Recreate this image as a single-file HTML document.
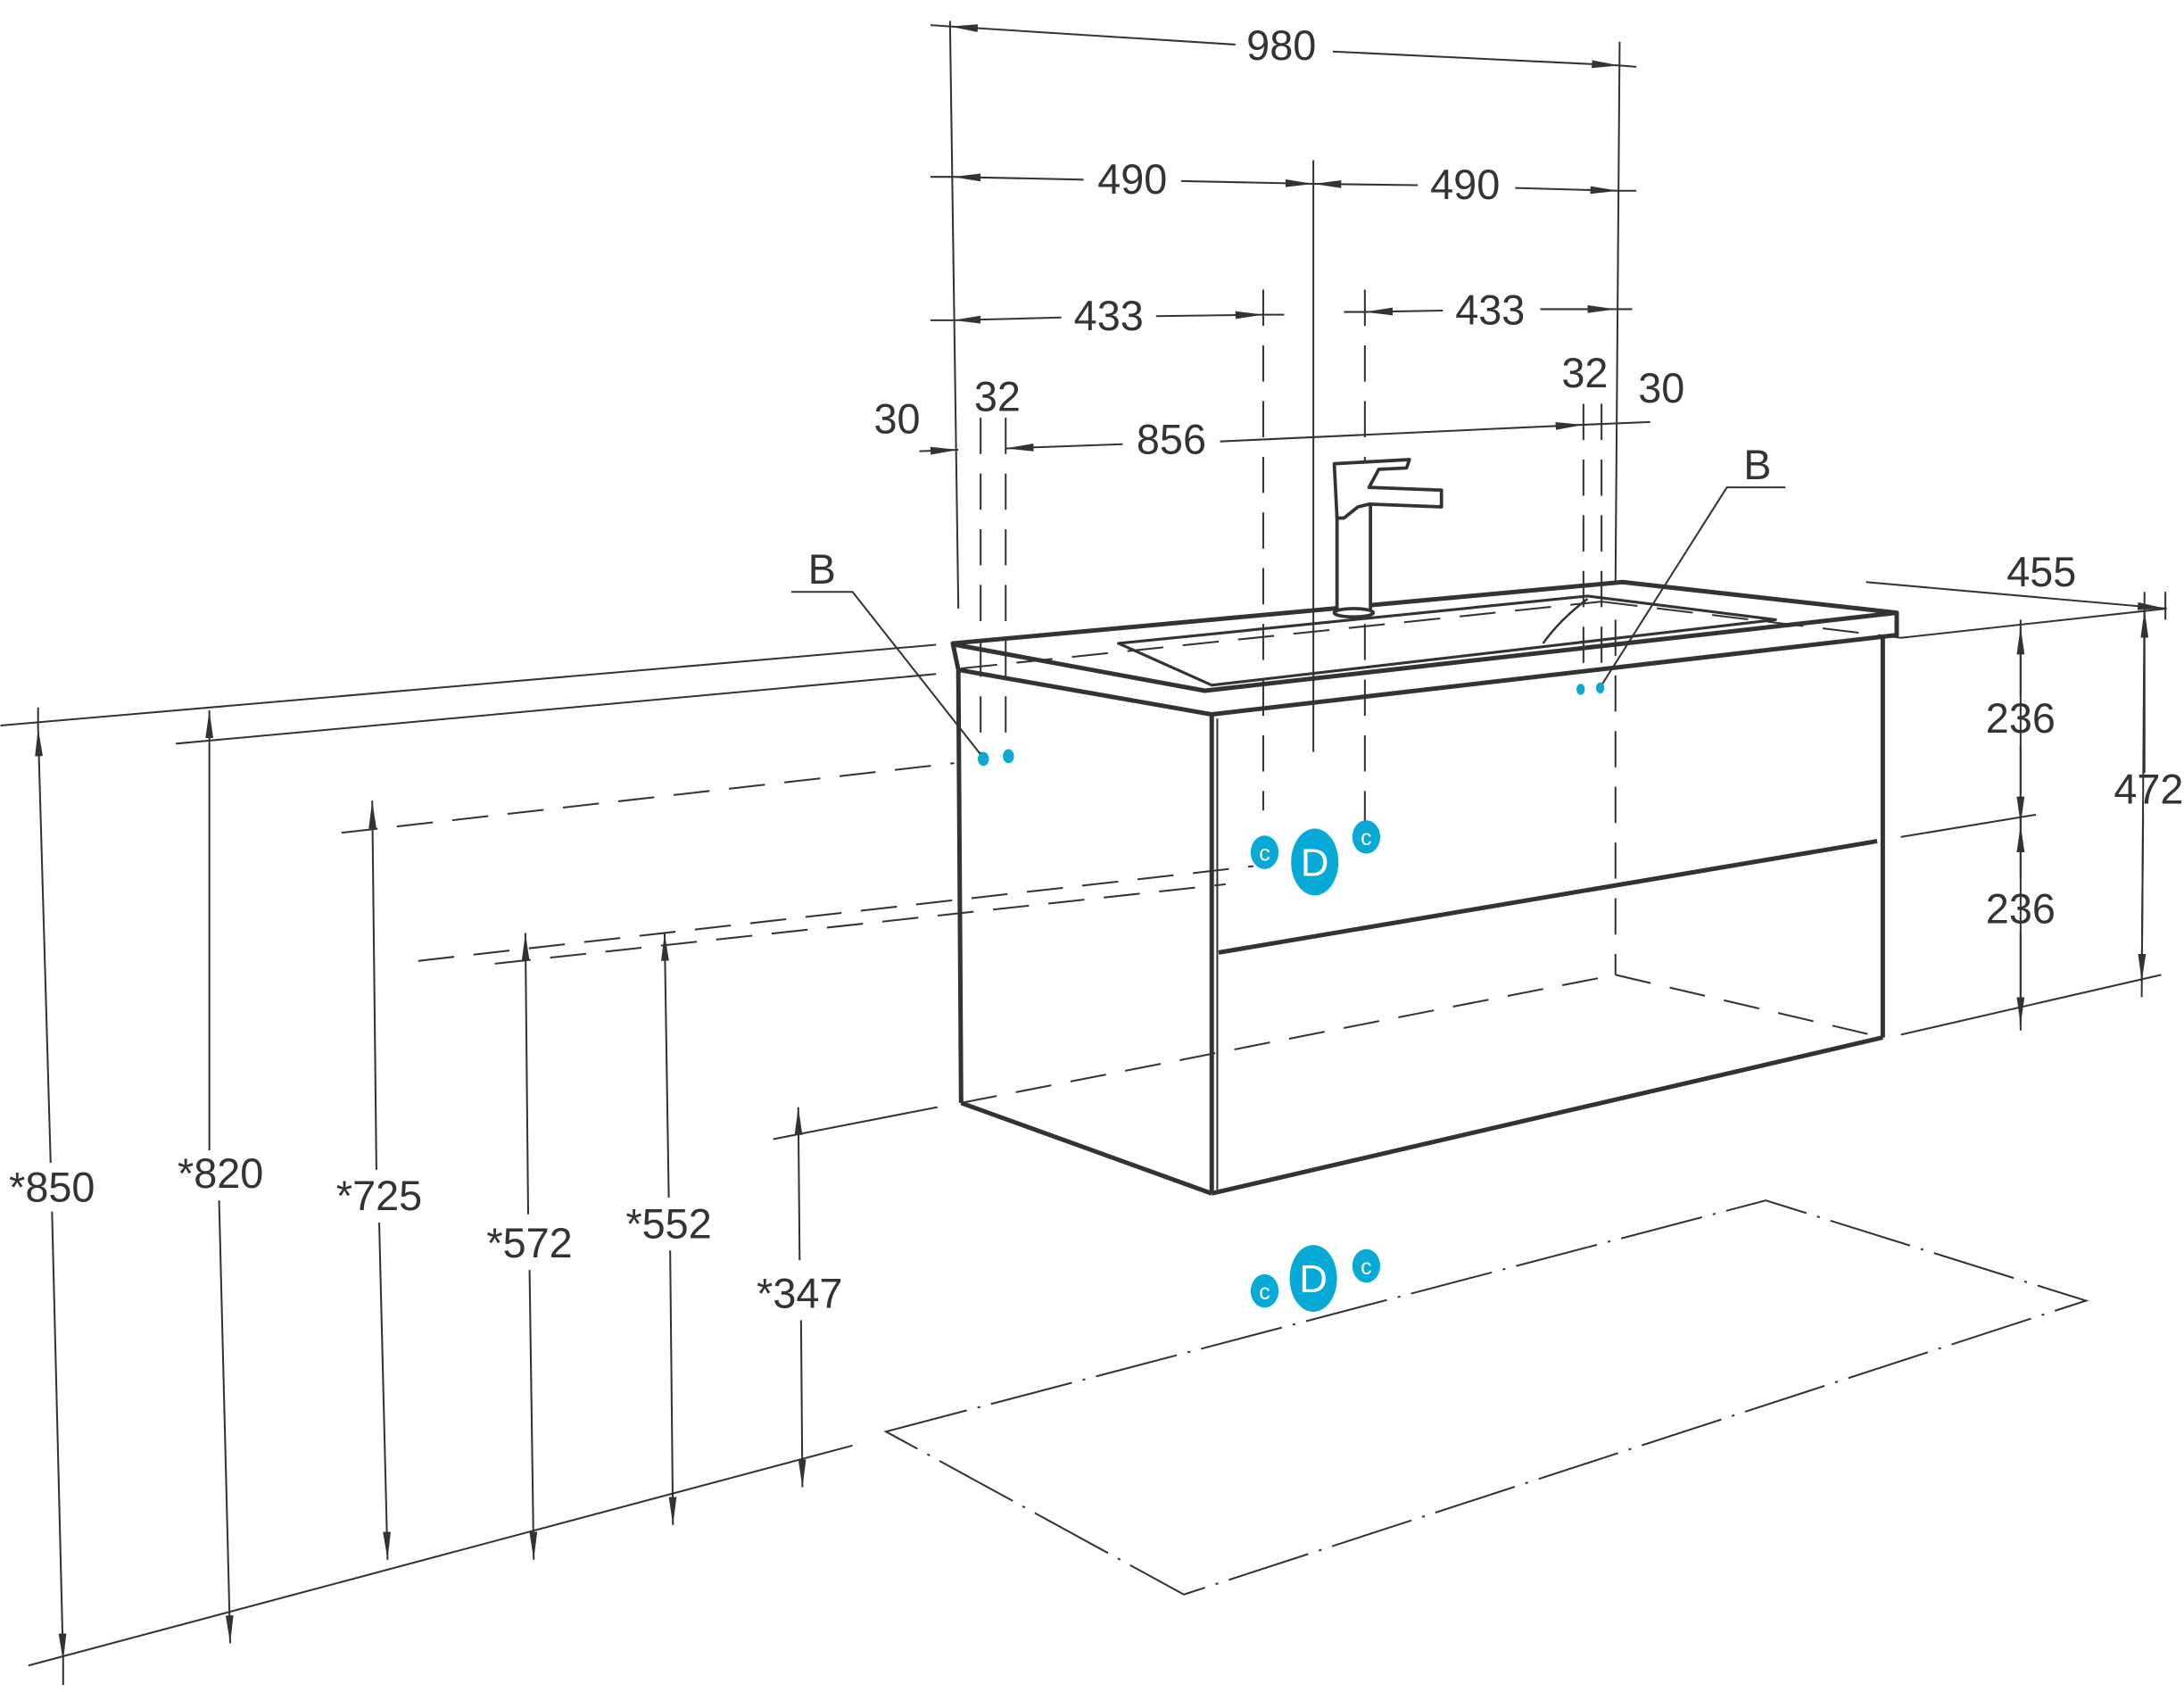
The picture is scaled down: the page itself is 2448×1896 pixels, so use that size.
<!DOCTYPE html>
<html><head><meta charset="utf-8"><style>html,body{margin:0;padding:0;background:#fff}svg{display:block}</style></head>
<body>
<svg width="2448" height="1896" viewBox="0 0 1568 1215" xmlns="http://www.w3.org/2000/svg" font-family="Liberation Sans, sans-serif">
<defs>
<marker id="a" viewBox="0 0 10 10" refX="10" refY="5" markerWidth="20" markerHeight="7" orient="auto-start-reverse" markerUnits="userSpaceOnUse" preserveAspectRatio="none"><path d="M0,1 L10,5 L0,9 Z" fill="#333"/></marker>
</defs>
<g stroke="#333" stroke-width="1.3" fill="none">
<line x1="0" y1="521" x2="672" y2="463"/>
<line x1="126" y1="534" x2="672" y2="484"/>
<line x1="20" y1="1196" x2="612" y2="1038"/>
<line x1="1365" y1="458" x2="1556" y2="437"/>
<line x1="1365" y1="601" x2="1462" y2="585"/>
<line x1="1365" y1="743" x2="1552" y2="700"/>
<line x1="555" y1="818" x2="673" y2="795"/>
<g stroke-dasharray="26,14">
<line x1="245" y1="598" x2="685" y2="548"/>
<line x1="300" y1="690" x2="900" y2="622"/>
<line x1="355" y1="692" x2="880" y2="635"/>
<line x1="690" y1="792" x2="1160" y2="700"/>
<line x1="1160" y1="700" x2="1352" y2="745"/>
<line x1="1160" y1="445" x2="1160" y2="700"/>
<line x1="690" y1="480" x2="1150" y2="432"/>
<line x1="1150" y1="432" x2="1365" y2="458"/>
<line x1="907" y1="208" x2="907" y2="582"/>
<line x1="980" y1="208" x2="980" y2="600"/>
<line x1="704" y1="300" x2="704" y2="545"/>
<line x1="722" y1="300" x2="722" y2="545"/>
<line x1="1137" y1="290" x2="1137" y2="490"/>
<line x1="1150" y1="290" x2="1150" y2="490"/>
</g>
<path d="M636,1028 L1268,862 L1498,934 L850,1145 Z" stroke-dasharray="60,8,2,8"/>
<line x1="682" y1="15" x2="688" y2="437"/>
<line x1="1163" y1="30" x2="1160" y2="420"/>
<line x1="943" y1="115" x2="943" y2="540"/>
<line x1="1451" y1="445" x2="1451" y2="740"/>
<line x1="1540" y1="425" x2="1538" y2="716"/>
<line x1="1555" y1="425" x2="1555" y2="445"/>
<line x1="668" y1="18" x2="682" y2="19"/><line x1="1163" y1="47" x2="1175" y2="48"/>
<line x1="682" y1="19" x2="887" y2="32" marker-start="url(#a)"/><line x1="957" y1="37" x2="1163" y2="47" marker-end="url(#a)"/>
<line x1="668" y1="127" x2="684" y2="127"/>
<line x1="848" y1="130" x2="943" y2="132" marker-end="url(#a)"/>
<line x1="684" y1="127" x2="778" y2="129" marker-start="url(#a)"/>
<line x1="943" y1="132" x2="1018" y2="133" marker-start="url(#a)"/><line x1="1162" y1="137" x2="1175" y2="137"/><line x1="1088" y1="135" x2="1162" y2="137" marker-end="url(#a)"/>
<line x1="668" y1="230" x2="684" y2="230"/><line x1="684" y1="230" x2="762" y2="228" marker-start="url(#a)"/><line x1="830" y1="227" x2="907" y2="226" marker-end="url(#a)"/><line x1="907" y1="226" x2="922" y2="226"/>
<line x1="965" y1="224" x2="980" y2="224"/><line x1="980" y1="224" x2="1036" y2="223" marker-start="url(#a)"/><line x1="1160" y1="222" x2="1172" y2="222"/><line x1="1106" y1="222" x2="1160" y2="222" marker-end="url(#a)"/>
<line x1="660" y1="324" x2="688" y2="323" marker-end="url(#a)"/>
<line x1="722" y1="322" x2="806" y2="319" marker-start="url(#a)"/><line x1="876" y1="317" x2="1137" y2="305" marker-end="url(#a)"/><line x1="1137" y1="305" x2="1185" y2="303"/>
<line x1="1340" y1="418" x2="1555" y2="437" marker-end="url(#a)"/>
<line x1="1451" y1="500" x2="1451" y2="450" marker-end="url(#a)"/>
<line x1="1451" y1="535" x2="1451" y2="592" marker-end="url(#a)"/>
<line x1="1451" y1="630" x2="1451" y2="592" marker-end="url(#a)"/>
<line x1="1451" y1="670" x2="1451" y2="736" marker-end="url(#a)"/>
<line x1="1540" y1="555" x2="1540" y2="438" marker-end="url(#a)"/>
<line x1="1539" y1="585" x2="1538" y2="705" marker-end="url(#a)"/>
<line x1="27" y1="508" x2="27" y2="523"/>
<line x1="36" y1="835" x2="27" y2="523" marker-end="url(#a)"/><line x1="37" y1="870" x2="45" y2="1193" marker-end="url(#a)"/><line x1="45" y1="1193" x2="45" y2="1210"/>
<line x1="150" y1="826" x2="150" y2="510" marker-end="url(#a)"/><line x1="157" y1="862" x2="165" y2="1180" marker-end="url(#a)"/>
<line x1="270" y1="840" x2="267" y2="575" marker-end="url(#a)"/><line x1="272" y1="878" x2="278" y2="1120" marker-end="url(#a)"/>
<line x1="379" y1="872" x2="377" y2="670" marker-end="url(#a)"/><line x1="380" y1="912" x2="383" y2="1120" marker-end="url(#a)"/>
<line x1="480" y1="860" x2="477" y2="670" marker-end="url(#a)"/><line x1="481" y1="898" x2="483" y2="1095" marker-end="url(#a)"/>
<line x1="574" y1="905" x2="573" y2="795" marker-end="url(#a)"/><line x1="575" y1="948" x2="576" y2="1068" marker-end="url(#a)"/>
<polyline points="568,425 612,425 705,543"/>
<polyline points="1282,350 1240,350 1150,492"/>
</g>
<g stroke="#333" stroke-width="3.2" fill="none" stroke-linejoin="round">
<path d="M684,462 L1165,418 L1362,440 L1362,456 L870,513 L688,481 Z"/>
<path d="M686,463 L865,496 L1362,440"/>
<path d="M803,462 L1140,428 L1275,445 L870,492 Z" stroke-width="2"/>
<path d="M1140,430 Q1120,445 1108,462" stroke-width="1.6"/>
<line x1="688" y1="482" x2="690" y2="792"/>
<line x1="870" y1="513" x2="870" y2="857"/>
<line x1="690" y1="792" x2="870" y2="857"/>
<line x1="870" y1="857" x2="1352" y2="745"/>
<line x1="1352" y1="458" x2="1352" y2="745"/>
<line x1="875" y1="684" x2="1348" y2="604"/>
<line x1="874" y1="516" x2="874" y2="855" stroke-width="1.3"/>
</g>
<g stroke="#333" stroke-width="2.4" fill="#fff" stroke-linejoin="round">
<rect x="960" y="360" width="24" height="80"/>
<path d="M958,333 L1012,330 L1010,336 L990,337 L983,350 L1035,352 L1035,364 L983,362 L975,364 L965,372 L960,372 Z"/>
<ellipse cx="972" cy="440" rx="14" ry="3"/>
</g>
<g fill="#07a9d6">
<ellipse cx="706" cy="545" rx="4" ry="5"/><ellipse cx="724" cy="543" rx="4" ry="5"/>
<ellipse cx="1135" cy="495" rx="3" ry="4"/><ellipse cx="1149" cy="494" rx="3" ry="4"/>
<ellipse cx="908" cy="612" rx="10" ry="12"/><ellipse cx="944" cy="619" rx="17" ry="24"/><ellipse cx="981" cy="601" rx="10" ry="12"/>
<ellipse cx="908" cy="927" rx="10" ry="12"/><ellipse cx="943" cy="918" rx="17" ry="24"/><ellipse cx="981" cy="909" rx="10" ry="12"/>
</g>
<g fill="#fff" font-size="16" text-anchor="middle">
<text x="908" y="618">c</text><text x="944" y="629" font-size="28">D</text><text x="981" y="607">c</text>
<text x="908" y="933">c</text><text x="943" y="928" font-size="28">D</text><text x="981" y="915">c</text>
</g>
<g fill="#333" font-size="30" text-anchor="middle">
<text x="920" y="43">980</text>
<text x="813" y="139">490</text><text x="1052" y="143">490</text>
<text x="796" y="237">433</text><text x="1070" y="233">433</text>
<text x="644" y="311">30</text><text x="716" y="295">32</text>
<text x="1138" y="278">32</text><text x="1193" y="289">30</text>
<text x="841" y="326">856</text>
<text x="590" y="419">B</text><text x="1262" y="344">B</text>
<text x="1466" y="421">455</text>
<text x="1451" y="526">236</text><text x="1451" y="663">236</text>
<text x="1543" y="577">472</text>
<text x="37" y="863">*850</text><text x="158" y="853">*820</text>
<text x="272" y="869">*725</text><text x="380" y="903">*572</text>
<text x="480" y="889">*552</text><text x="574" y="939">*347</text>
</g>
</svg>
</body></html>
